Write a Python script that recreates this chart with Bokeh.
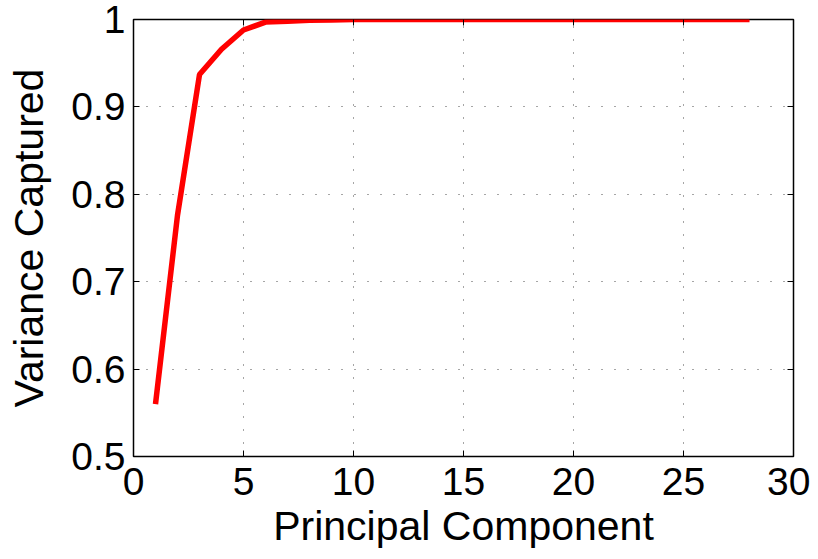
from bokeh.plotting import figure
from bokeh.models import Range1d, FixedTicker, LinearAxis
from bokeh.embed import file_html
from bokeh.resources import INLINE

components = list(range(1, 29))
variance = [0.560, 0.776, 0.937, 0.966, 0.988, 0.997, 0.998, 0.999, 0.9995, 1.0,
            1.0, 1.0, 1.0, 1.0, 1.0, 1.0, 1.0, 1.0, 1.0, 1.0,
            1.0, 1.0, 1.0, 1.0, 1.0, 1.0, 1.0, 1.0]
x_ticks = [0, 5, 10, 15, 20, 25, 30]
y_ticks = [0.5, 0.6, 0.7, 0.8, 0.9, 1.0]
y_labels = {0.5: "0.5", 0.6: "0.6", 0.7: "0.7", 0.8: "0.8", 0.9: "0.9", 1.0: "1"}

FONT = "Liberation Sans"

p = figure(width=810, height=551, output_backend="svg", toolbar_location=None,
           x_range=Range1d(0, 30), y_range=Range1d(0.5, 1.0),
           min_border_left=133, min_border_top=19, min_border_right=17, min_border_bottom=94)

p.line(components, variance, line_color="#ff0000", line_width=5.5)

p.outline_line_color = "black"
p.outline_line_width = 1.5
p.outline_line_alpha = 1.0

for ax in (p.xaxis[0], p.yaxis[0]):
    ax.axis_line_color = None
    ax.major_tick_in = 6
    ax.major_tick_out = 0
    ax.minor_tick_line_color = None
    ax.major_tick_line_color = "black"
    ax.major_label_text_font = FONT
    ax.major_label_text_font_size = "39px"
    ax.major_label_text_color = "black"
    ax.axis_label_text_font = FONT
    ax.axis_label_text_font_size = "41px"
    ax.axis_label_text_font_style = "normal"
    ax.axis_label_text_color = "black"

p.xaxis.ticker = FixedTicker(ticks=x_ticks)
p.yaxis.ticker = FixedTicker(ticks=y_ticks)
p.yaxis.major_label_overrides = y_labels
p.xaxis.axis_label = "Principal Component"
p.yaxis.axis_label = "Variance Captured"
p.xaxis.major_label_standoff = 11
p.xaxis.axis_label_standoff = 5
p.yaxis.major_label_standoff = 8
p.yaxis.axis_label_standoff = 16

for loc, ticks in (("right", y_ticks), ("above", x_ticks)):
    a = LinearAxis(ticker=FixedTicker(ticks=ticks), major_label_text_font_size="0px",
                   axis_line_color=None, major_tick_in=6, major_tick_out=0,
                   minor_tick_line_color=None, major_label_standoff=0)
    p.add_layout(a, loc)

p.grid.grid_line_color = "black"
p.grid.grid_line_alpha = 0.7
p.grid.grid_line_dash = "1 12"
p.grid.grid_line_width = 1
p.xgrid.ticker = FixedTicker(ticks=x_ticks)
p.ygrid.ticker = FixedTicker(ticks=y_ticks)

p.background_fill_color = "white"
p.border_fill_color = "white"

open("out.html", "w").write(file_html(p, INLINE))
